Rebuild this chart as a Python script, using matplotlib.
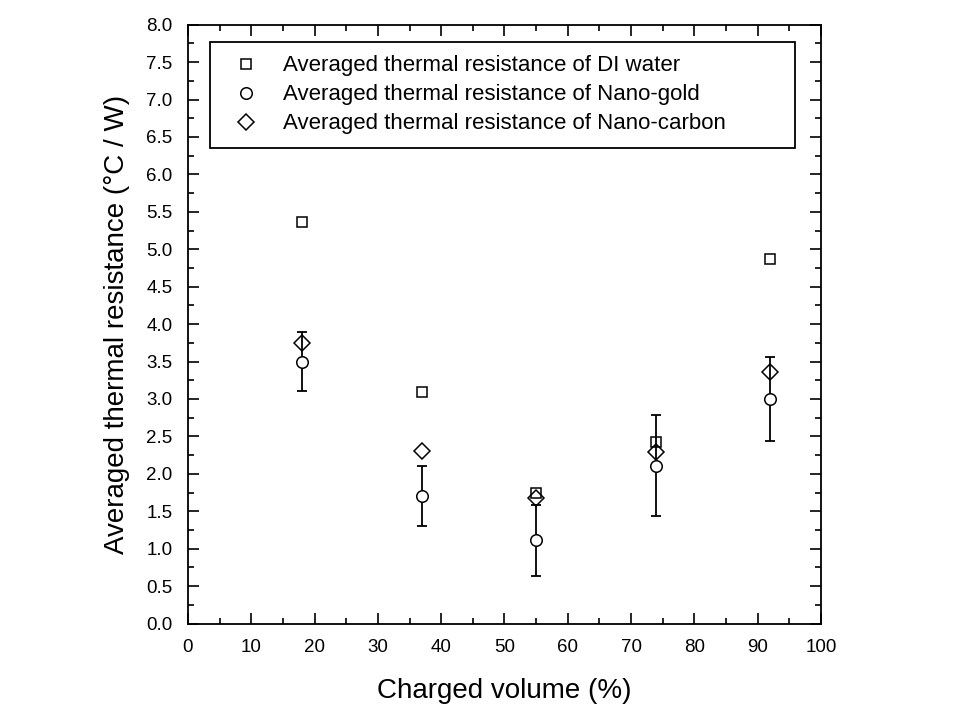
import matplotlib
matplotlib.use("Agg")
import matplotlib.pyplot as plt
from matplotlib.ticker import MultipleLocator

plt.rcParams["font.family"] = ["Liberation Sans", "DejaVu Sans"]

# data
volume = [18, 37, 55, 74, 92]
di_water = [5.36, 3.09, 1.75, 2.43, 4.87]
nano_gold = [3.50, 1.70, 1.11, 2.11, 3.00]
nano_gold_err = [0.40, 0.40, 0.47, 0.68, 0.56]
nano_carbon = [3.75, 2.30, 1.68, 2.29, 3.36]

labels = [
    "Averaged thermal resistance of DI water",
    "Averaged thermal resistance of Nano-gold",
    "Averaged thermal resistance of Nano-carbon",
]

fig = plt.figure(figsize=(9.61, 7.13), dpi=100)
ax = fig.add_axes([0.1956, 0.1255, 0.6587, 0.8399])

ax.plot(volume, di_water, linestyle="none", marker="s", markersize=7,
        markerfacecolor="none", markeredgecolor="black", markeredgewidth=1.1,
        label=labels[0], zorder=2)
ax.plot(volume, nano_carbon, linestyle="none", marker="D", markersize=8.3,
        markerfacecolor="none", markeredgecolor="black", markeredgewidth=1.1,
        label=labels[2], zorder=2)
ax.errorbar(volume, nano_gold, yerr=nano_gold_err, fmt="none", ecolor="black",
            elinewidth=1.3, capsize=3.6, capthick=1.3, zorder=3)
ax.plot(volume, nano_gold, linestyle="none", marker="o", markersize=8.3,
        markerfacecolor="white", markeredgecolor="black", markeredgewidth=1.1,
        label=labels[1], zorder=4)

ax.set_xlim(0, 100)
ax.set_ylim(0, 8.0)
ax.xaxis.set_major_locator(MultipleLocator(10))
ax.xaxis.set_minor_locator(MultipleLocator(5))
ax.yaxis.set_major_locator(MultipleLocator(0.5))
ax.yaxis.set_minor_locator(MultipleLocator(0.25))
ax.yaxis.set_major_formatter(plt.FormatStrFormatter("%.1f"))
ax.tick_params(which="both", direction="in", top=True, right=True,
               width=1.2, labelsize=13.5)
ax.tick_params(axis="x", which="major", pad=11)
ax.tick_params(axis="y", which="major", pad=11)
ax.tick_params(which="major", length=8)
ax.tick_params(which="minor", length=4)
for spine in ax.spines.values():
    spine.set_linewidth(1.3)

ax.set_xlabel("Charged volume (%)", fontsize=20, labelpad=16)
ax.set_ylabel("Averaged thermal resistance (°C / W)", fontsize=20, labelpad=12)

handles, lbls = ax.get_legend_handles_labels()
order = [0, 2, 1]
leg = ax.legend([handles[i] for i in order], [lbls[i] for i in order],
                loc="upper left", bbox_to_anchor=(0.035, 0.5, 0.924, 0.471),
                mode="expand", borderaxespad=0, fancybox=False,
                edgecolor="black", fontsize=16, handlelength=2.05,
                handletextpad=0.64, borderpad=0.6, labelspacing=0.36,
                framealpha=1)
leg.get_frame().set_linewidth(1.3)

fig.savefig("out.png", dpi=100)
